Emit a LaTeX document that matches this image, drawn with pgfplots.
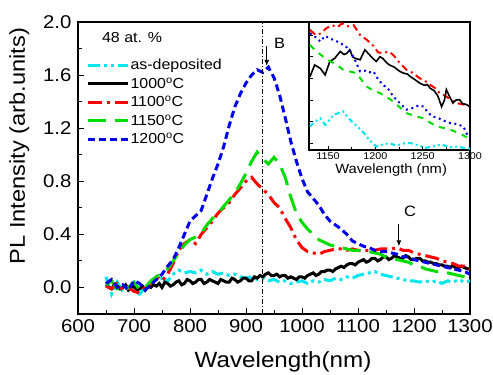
\documentclass[border=0pt]{standalone}
\usepackage{fontspec}
\setmainfont{Liberation Sans}[FakeStretch=1.1]
\setsansfont{Liberation Sans}[FakeStretch=1.1]
\usepackage{pgfplots}
\pgfplotsset{compat=1.18}
\usetikzlibrary{arrows.meta}
\definecolor{cyanc}{RGB}{0,230,240}
\definecolor{redc}{RGB}{255,0,0}
\definecolor{greenc}{RGB}{0,220,0}
\definecolor{bluec}{RGB}{0,0,235}
\begin{document}
\begin{tikzpicture}
\begin{axis}[
  at={(78pt,61pt)}, anchor=south west,
  scale only axis, width=392pt, height=292pt,
  xmin=600, xmax=1300, ymin=-0.2, ymax=2.0,
  xtick={600,700,...,1300}, minor x tick num=1,
  ytick={0,0.4,0.8,1.2,1.6,2.0}, minor y tick num=1,
  xtick pos=bottom, ytick pos=left,
  tick align=inside, major tick length=6pt, minor tick length=3.5pt,
  every tick/.style={black, line width=0.9pt},
  axis line style={line width=1.2pt},
  /pgf/number format/assume math mode=true,
  /pgf/number format/1000 sep={},
  yticklabel style={/pgf/number format/fixed, /pgf/number format/fixed zerofill, /pgf/number format/precision=1, xshift=-3pt},
  tick label style={font=\fontsize{18.5}{19}\selectfont},
  xticklabel style={yshift=-2pt},
  xlabel={Wavelength(nm)},
  ylabel={PL Intensity (arb.units)},
  xlabel style={font=\fontsize{22}{22}\selectfont, at={(axis description cs:0.523,-0.163)}, anchor=center},
  ylabel style={font=\fontsize{21.5}{22}\selectfont, at={(axis description cs:-0.15,0.575)}, anchor=center, rotate=0},
  legend style={draw=none, fill=none, at={(axis description cs:0.02,0.878)}, anchor=north west,
    font=\fontsize{14.5}{15}\selectfont, row sep=3.3pt, inner sep=0pt,
    nodes={inner sep=1.5pt}},
  legend cell align=left,
  legend image code/.code={\draw[#1] (0pt,0pt) -- (40pt,0pt);},
]
% as-deposited
\addplot[cyanc, line width=3pt, dash pattern=on 12pt off 4pt on 3pt off 4pt on 3pt off 4pt] coordinates {
(650,0.08)(660,-0.05)(670,0.04)(680,-0.03)(690,0.01)(700,-0.02)(710,-0.05)(720,0.00)(730,0.03)(740,0.06)
(750,0.07)(760,0.05)(770,0.10)(780,0.13)(790,0.11)(800,0.12)(810,0.11)(820,0.13)(830,0.10)(840,0.12)
(850,0.10)(860,0.11)(870,0.09)(880,0.10)(890,0.08)(900,0.07)(910,0.08)(920,0.06)(930,0.07)(940,0.05)
(950,0.06)(960,0.04)(970,0.05)(980,0.03)(990,0.04)(1000,0.05)(1010,0.03)(1020,0.05)(1030,0.04)(1040,0.06)
(1050,0.05)(1060,0.07)(1070,0.06)(1080,0.08)(1090,0.07)(1100,0.09)(1110,0.10)(1120,0.11)(1130,0.12)(1140,0.10)
(1150,0.09)(1160,0.08)(1170,0.07)(1180,0.06)(1190,0.05)(1200,0.05)(1210,0.04)(1220,0.05)(1230,0.04)(1240,0.05)
(1250,0.03)(1260,0.05)(1270,0.04)(1280,0.06)(1290,0.04)(1300,0.05)};
\addlegendentry{as-deposited}
% 1000
\addplot[black, line width=3pt] coordinates {
(650,0.02)(655,0.00)(660,-0.01)(665,0.02)(670,0.01)(675,-0.01)(680,0.00)(685,0.02)(690,-0.02)(695,0.00)(700,0.01)
(705,-0.02)(710,-0.01)(715,0.01)(720,-0.02)(725,0.01)(730,0.00)(735,0.02)(740,0.01)(745,0.03)(750,0.00)(755,0.04)
(760,0.03)(765,0.01)(770,0.02)(775,0.04)(780,0.05)(785,0.02)(790,0.03)(795,0.06)(800,0.05)(805,0.03)(810,0.04)
(815,0.06)(820,0.06)(825,0.03)(830,0.04)(835,0.06)(840,0.05)(845,0.04)(850,0.03)(855,0.06)(860,0.05)(865,0.04)
(870,0.04)(875,0.07)(880,0.06)(885,0.04)(890,0.05)(895,0.07)(900,0.07)(905,0.05)(910,0.05)(915,0.08)(920,0.07)
(925,0.09)(930,0.08)(935,0.10)(940,0.11)(945,0.09)(950,0.09)(955,0.10)(960,0.08)(965,0.09)(970,0.09)(975,0.07)
(980,0.08)(985,0.07)(990,0.06)(995,0.08)(1000,0.08)(1005,0.07)(1010,0.09)(1015,0.10)(1020,0.11)(1025,0.09)
(1030,0.10)(1035,0.12)(1040,0.12)(1045,0.13)(1050,0.13)(1055,0.12)(1060,0.14)(1065,0.15)(1070,0.16)(1075,0.15)
(1080,0.17)(1085,0.18)(1090,0.18)(1095,0.17)(1100,0.19)(1105,0.20)(1110,0.21)(1115,0.19)(1120,0.20)(1125,0.22)
(1130,0.22)(1135,0.20)(1140,0.21)(1145,0.23)(1150,0.23)(1155,0.21)(1160,0.22)(1165,0.24)(1170,0.23)(1175,0.22)
(1180,0.22)(1185,0.24)(1190,0.23)(1195,0.21)(1200,0.21)(1205,0.22)(1210,0.22)(1215,0.20)(1220,0.20)(1225,0.19)
(1230,0.19)(1235,0.18)(1240,0.18)(1245,0.17)(1250,0.17)(1255,0.16)(1260,0.16)(1265,0.15)(1270,0.17)(1275,0.14)
(1280,0.15)(1285,0.16)(1290,0.15)(1295,0.14)(1300,0.14)};
\addlegendentry{1000\textsuperscript{o}C}
% 1100
\addplot[redc, line width=3pt, dash pattern=on 14pt off 5pt on 3pt off 5pt] coordinates {
(650,0.01)(660,-0.01)(670,0.03)(680,-0.02)(690,0.00)(700,-0.03)(710,-0.04)(720,0.00)(730,0.03)(740,0.08)
(750,0.05)(760,0.10)(770,0.18)(780,0.28)(790,0.33)(800,0.36)(810,0.33)(820,0.40)(830,0.45)(840,0.50)
(850,0.56)(860,0.60)(870,0.64)(880,0.70)(890,0.75)(900,0.80)(910,0.83)(920,0.78)(930,0.74)(940,0.70)
(950,0.64)(960,0.60)(970,0.52)(980,0.45)(990,0.36)(1000,0.30)(1010,0.27)(1020,0.26)(1030,0.25)(1040,0.27)
(1050,0.28)(1060,0.29)(1070,0.29)(1080,0.28)(1090,0.29)(1100,0.28)(1110,0.28)(1120,0.28)(1130,0.28)(1140,0.29)
(1150,0.29)(1160,0.29)(1170,0.30)(1180,0.28)(1190,0.28)(1200,0.26)(1210,0.25)(1220,0.24)(1230,0.23)(1240,0.22)
(1250,0.20)(1260,0.19)(1270,0.18)(1280,0.16)(1290,0.16)(1300,0.14)};
\addlegendentry{1100\textsuperscript{o}C}
% 1150
\addplot[greenc, line width=3pt, dash pattern=on 18pt off 9pt] coordinates {
(650,0.02)(660,0.05)(670,-0.01)(680,-0.03)(690,0.00)(700,0.04)(710,-0.02)(720,0.00)(730,0.05)(740,0.08)
(750,0.11)(760,0.14)(770,0.20)(780,0.26)(790,0.32)(800,0.36)(810,0.38)(820,0.41)(830,0.47)(840,0.52)
(850,0.56)(860,0.61)(870,0.66)(880,0.71)(890,0.78)(900,0.86)(910,0.95)(920,1.02)(930,0.97)(940,0.93)
(950,0.98)(960,0.93)(970,0.83)(980,0.68)(990,0.56)(1000,0.49)(1010,0.44)(1020,0.40)(1030,0.36)(1040,0.34)
(1050,0.32)(1060,0.31)(1070,0.30)(1080,0.29)(1090,0.28)(1100,0.28)(1110,0.27)(1120,0.27)(1130,0.26)(1140,0.25)
(1150,0.23)(1160,0.22)(1170,0.21)(1180,0.20)(1190,0.19)(1200,0.17)(1210,0.16)(1220,0.14)(1230,0.13)(1240,0.12)
(1250,0.12)(1260,0.11)(1270,0.10)(1280,0.09)(1290,0.08)(1300,0.07)};
\addlegendentry{1150\textsuperscript{o}C}
% 1200
\addplot[bluec, line width=3pt, dash pattern=on 7pt off 4pt] coordinates {
(650,0.03)(660,0.06)(670,0.00)(680,0.02)(690,-0.02)(700,0.05)(710,0.03)(720,-0.02)(730,0.02)(740,0.06)
(750,0.10)(760,0.16)(770,0.21)(780,0.30)(790,0.40)(800,0.50)(810,0.54)(820,0.58)(830,0.70)(840,0.82)
(850,0.93)(860,1.06)(870,1.22)(880,1.36)(890,1.46)(900,1.54)(910,1.60)(920,1.64)(930,1.62)(940,1.66)
(950,1.58)(960,1.45)(970,1.28)(980,1.10)(990,0.95)(1000,0.82)(1010,0.72)(1020,0.67)(1030,0.62)(1040,0.55)
(1050,0.50)(1060,0.47)(1070,0.44)(1080,0.40)(1090,0.35)(1100,0.33)(1110,0.31)(1120,0.30)(1130,0.28)(1140,0.27)
(1150,0.27)(1160,0.26)(1170,0.25)(1180,0.23)(1190,0.23)(1200,0.21)(1210,0.20)(1220,0.19)(1230,0.18)(1240,0.17)
(1250,0.16)(1260,0.15)(1270,0.14)(1280,0.13)(1290,0.12)(1300,0.10)};
\addlegendentry{1200\textsuperscript{o}C}
% annotations
\draw[black, line width=0.7pt, dash pattern=on 5pt off 2pt on 1pt off 2pt] (axis cs:930,-0.2) -- (axis cs:930,2.0);
\draw[black, line width=0.9pt, -{Latex[length=6pt,width=5pt]}] (axis cs:937,1.82) -- (axis cs:937,1.67);
\node[font=\fontsize{15}{15}\selectfont] at (axis cs:960,1.84) {B};
\draw[black, line width=0.9pt, -{Latex[length=6pt,width=5pt]}] (axis cs:1173,0.48) -- (axis cs:1173,0.31);
\node[font=\fontsize{15}{15}\selectfont] at (axis cs:1193,0.57) {C};
\node[font=\fontsize{14.5}{15}\selectfont] at (axis description cs:0.138,0.947) {48 at. \%};
\end{axis}
% inset
\begin{axis}[
  at={(309pt,225pt)}, anchor=south west,
  scale only axis, width=161pt, height=128pt,
  xmin=1130, xmax=1300, ymin=0.035, ymax=0.33,
  axis background/.style={fill=white},
  xtick={1150,1200,1250,1300}, minor x tick num=1,
  ytick={0.05,0.1,0.15,0.2,0.25,0.3}, yticklabels={},
  xtick pos=bottom, ytick pos=left,
  tick align=inside, major tick length=4pt, minor tick length=2.5pt,
  every tick/.style={black, line width=0.7pt},
  axis line style={line width=1.1pt},
  /pgf/number format/assume math mode=true,
  /pgf/number format/1000 sep={},
  xticklabel style={font=\fontsize{9.8}{10}\selectfont, yshift=1pt},
  xlabel={Wavelength (nm)},
  xlabel style={font=\fontsize{13.4}{14}\selectfont, at={(axis description cs:0.51,-0.16)}, anchor=center},
]
\addplot[redc, line width=2pt, dash pattern=on 7pt off 4pt on 2pt off 4pt] coordinates {
(1131,0.312)(1137,0.300)(1143,0.304)(1148,0.315)(1154,0.323)(1160,0.318)(1165,0.327)(1171,0.320)(1177,0.323)
(1184,0.300)(1191,0.289)(1198,0.275)(1203,0.260)(1208,0.258)(1214,0.262)(1219,0.254)(1226,0.235)(1233,0.220)
(1240,0.212)(1247,0.200)(1251,0.197)(1258,0.185)(1263,0.178)(1268,0.166)(1274,0.160)(1280,0.150)(1286,0.143)
(1293,0.140)(1300,0.135)};
\addplot[black, line width=1.6pt] coordinates {
(1131,0.204)(1136,0.231)(1142,0.223)(1147,0.208)(1152,0.239)(1157,0.246)(1163,0.262)(1167,0.255)(1170,0.258)
(1173,0.266)(1176,0.250)(1179,0.246)(1184,0.243)(1189,0.266)(1194,0.254)(1198,0.245)(1201,0.239)(1205,0.250)
(1208,0.246)(1212,0.236)(1215,0.231)(1220,0.226)(1226,0.216)(1230,0.212)(1234,0.210)(1237,0.204)(1242,0.197)
(1247,0.189)(1252,0.184)(1255,0.186)(1258,0.177)(1262,0.172)(1266,0.160)(1270,0.135)(1273,0.150)(1275,0.174)
(1278,0.160)(1282,0.143)(1285,0.150)(1289,0.151)(1292,0.142)(1296,0.140)(1300,0.135)};
\addplot[bluec, line width=2pt, dash pattern=on 2pt off 3.5pt] coordinates {
(1131,0.304)(1137,0.295)(1142,0.285)(1147,0.298)(1152,0.292)(1158,0.287)(1163,0.281)(1168,0.275)(1173,0.266)
(1178,0.245)(1184,0.216)(1190,0.218)(1194,0.214)(1198,0.216)(1203,0.198)(1208,0.185)(1213,0.178)(1219,0.158)
(1225,0.145)(1233,0.128)(1240,0.132)(1246,0.138)(1251,0.135)(1256,0.120)(1261,0.112)(1267,0.108)(1273,0.102)
(1279,0.097)(1286,0.095)(1293,0.089)(1298,0.066)(1300,0.064)};
\addplot[greenc, line width=2pt, dash pattern=on 6pt off 6pt] coordinates {
(1131,0.277)(1138,0.262)(1145,0.250)(1152,0.240)(1159,0.232)(1166,0.220)(1173,0.216)(1180,0.212)(1186,0.195)
(1191,0.181)(1198,0.172)(1205,0.166)(1212,0.157)(1219,0.147)(1226,0.133)(1233,0.120)(1241,0.114)(1251,0.108)
(1258,0.098)(1265,0.089)(1272,0.086)(1279,0.082)(1286,0.076)(1292,0.070)(1298,0.062)(1300,0.060)};
\addplot[cyanc, line width=2pt, dash pattern=on 5pt off 3pt on 2pt off 3pt on 2pt off 3pt] coordinates {
(1131,0.089)(1136,0.100)(1142,0.108)(1147,0.093)(1152,0.105)(1156,0.116)(1161,0.120)(1166,0.124)(1171,0.110)
(1177,0.097)(1183,0.085)(1188,0.074)(1195,0.055)(1201,0.043)(1208,0.048)(1215,0.051)(1222,0.045)(1230,0.050)
(1237,0.051)(1245,0.046)(1253,0.040)(1261,0.043)(1270,0.048)(1278,0.041)(1286,0.043)(1293,0.040)(1300,0.038)};
\end{axis}
\pgfresetboundingbox
\path (0,0) rectangle (493pt,375pt);
\end{tikzpicture}
\end{document}
